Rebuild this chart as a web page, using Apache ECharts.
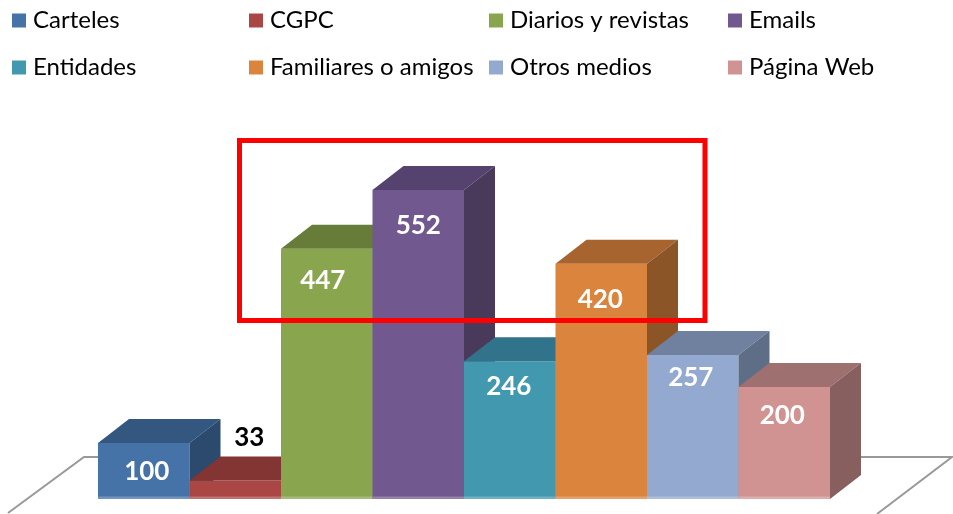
<!DOCTYPE html>
<html>
<head>
<meta charset="utf-8">
<title>Medios</title>
<script src="https://cdn.jsdelivr.net/npm/echarts@6/dist/echarts.min.js"></script>
<style>
    html, body { margin: 0; padding: 0; background: #fff; }
    #main { width: 953px; height: 514px; }
</style>
</head>
<body>
<div id="main"></div>
<script>
    var categories = ['Carteles', 'CGPC', 'Diarios y revistas', 'Emails', 'Entidades', 'Familiares o amigos', 'Otros medios', 'Página Web'];
    var values = [100, 33, 447, 552, 246, 420, 257, 200];

    var colors = ['#4572a7', '#aa4643', '#89a54e', '#71588f', '#4198af', '#db843d', '#93a9cf', '#d19392'];
    var topColors = ['#34577f', '#833533', '#687c3a', '#56426e', '#31738a', '#a8642e', '#70819f', '#9f7070'];
    var sideColors = ['#2c4a6d', '#6f2d2b', '#586a32', '#493a5c', '#2a6275', '#8c5527', '#5f6e87', '#875f5f'];
    // label position relative to the top of the front face
    var labelDy = [29, -43, 32, 36, 25, 36, 23, 29];
    var labelDx = [3, 14, -4, 0, -1, -1, -2, -2];
    var depthX = 31, depthY = -24;

    function renderBar(params, api) {
        var i = api.value(0);
        var p = api.coord([i, api.value(1)]);
        var b = api.coord([i, 0]);
        var w = api.size([1, 0])[0];
        var l = p[0] - w / 2, r = p[0] + w / 2, t = p[1], y0 = b[1];
        return {
            type: 'group',
            children: [
                { type: 'rect', shape: { x: l, y: t, width: w, height: y0 - t }, style: { fill: colors[i] } },
                { type: 'rect', shape: { x: l, y: y0 - 2.5, width: w, height: 2.5 }, style: { fill: '#fff', opacity: 0.25 } },
                { type: 'polygon', shape: { points: [[l, t], [l + depthX, t + depthY], [r + depthX, t + depthY], [r, t]] }, style: { fill: topColors[i] } },
                { type: 'polygon', shape: { points: [[r, t], [r + depthX, t + depthY], [r + depthX, y0 + depthY], [r, y0]] }, style: { fill: sideColors[i] } },
                {
                    type: 'text',
                    style: {
                        text: String(api.value(1)),
                        x: p[0] + labelDx[i],
                        y: t + labelDy[i],
                        align: 'center',
                        verticalAlign: 'middle',
                        fill: api.value(1) < 50 ? '#000' : '#fff',
                        font: 'bold 26px Lato'
                    }
                }
            ]
        };
    }

    var series = categories.map(function (name, i) {
        return {
            name: name,
            type: 'custom',
            renderItem: renderBar,
            clip: false,
            itemStyle: { color: colors[i] },
            encode: { x: 0, y: 1 },
            data: [[i, values[i]]]
        };
    });

    var columnLeft = [12, 249, 489, 728];
    var legends = columnLeft.map(function (left, c) {
        return {
            left: left,
            top: 4,
            padding: 0,
            orient: 'vertical',
            icon: 'rect',
            itemWidth: 14,
            itemHeight: 14,
            itemGap: 14,
            selectedMode: false,
            textStyle: { fontFamily: 'Lato', fontSize: 24, color: '#000', lineHeight: 28, padding: [5, 0, 0, 2] },
            data: [categories[c], categories[c + 4]]
        };
    });

    var option = {
        animation: false,
        backgroundColor: '#fff',
        grid: { left: 98, width: 732, top: 163, height: 336 },
        xAxis: { type: 'category', data: categories, show: false },
        yAxis: { type: 'value', min: 0, max: 600, show: false },
        legend: legends,
        series: series,
        graphic: [
            { type: 'polyline', z: 0, shape: { points: [[8, 513], [84, 457], [98, 457]] }, style: { stroke: '#999', lineWidth: 2, fill: null } },
            { type: 'polyline', z: 0, shape: { points: [[860, 457], [952, 457], [877, 514]] }, style: { stroke: '#999', lineWidth: 2, fill: null } },
            { type: 'rect', z: 100, shape: { x: 239.5, y: 140.5, width: 465.5, height: 180 }, style: { stroke: '#ff0000', lineWidth: 5, fill: null } }
        ]
    };

    echarts.init(document.getElementById('main')).setOption(option);
</script>
</body>
</html>
